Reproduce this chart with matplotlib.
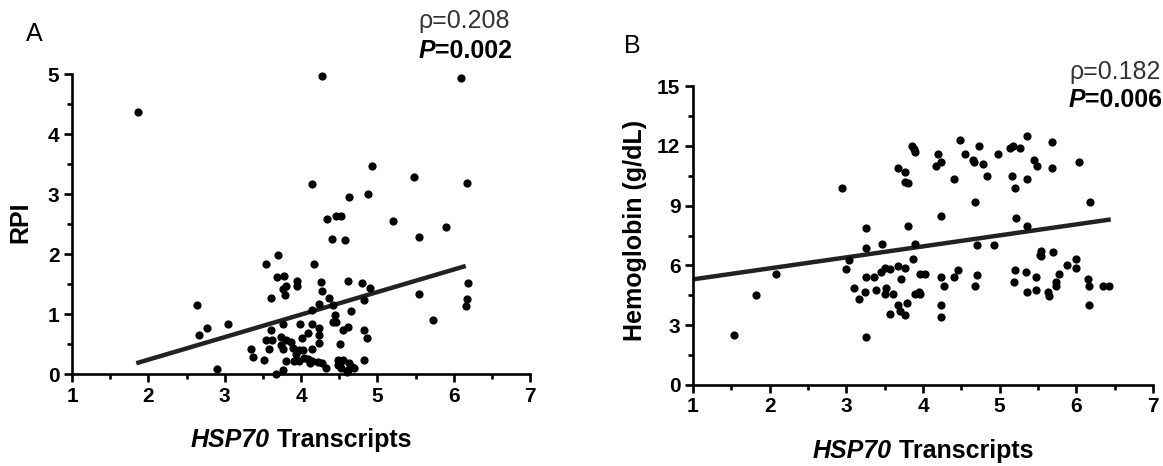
import matplotlib
matplotlib.use("Agg")
from matplotlib import pyplot as plt
from matplotlib.ticker import MultipleLocator

plt.rcParams['font.family'] = ['Liberation Sans', 'DejaVu Sans']

# panel A: HSP70 vs RPI
a_x = [1.86, 4.28, 6.09, 4.93, 5.48, 6.17, 4.14, 4.88, 4.63, 4.34, 4.46, 4.53,
       5.21, 5.90, 5.55, 4.40, 4.57, 3.70, 3.54, 4.17, 3.68, 3.78, 3.95, 3.95,
       3.81, 3.77, 3.79, 3.61, 4.26, 4.61, 4.80, 4.90, 4.28, 4.37, 4.83, 6.19,
       5.55, 6.17, 6.16, 2.64, 4.23, 4.42, 4.14, 4.65, 4.44, 5.73, 4.42, 4.46,
       3.99, 3.77, 3.04, 4.14, 4.61, 4.23, 2.77, 4.55, 3.61, 4.83, 2.66, 4.09,
       4.23, 4.01, 4.86, 3.74, 3.54, 3.62, 3.81, 3.87, 4.23, 4.51, 3.74, 3.89,
       3.34, 3.58, 3.77, 4.15, 3.97, 4.02, 3.94, 3.37, 4.04, 4.09, 3.52, 3.81,
       3.91, 3.97, 4.12, 4.15, 4.22, 4.28, 4.12, 4.49, 4.55, 4.51, 4.82, 4.49,
       4.63, 4.53, 4.67, 4.69, 4.33, 4.62, 4.60, 2.90, 3.77, 3.67]
a_y = [4.37, 4.96, 4.94, 3.47, 3.29, 3.18, 3.16, 3.00, 2.95, 2.58, 2.64, 2.64,
       2.55, 2.45, 2.29, 2.25, 2.24, 1.99, 1.83, 1.83, 1.62, 1.64, 1.55, 1.46,
       1.46, 1.41, 1.31, 1.27, 1.53, 1.55, 1.51, 1.43, 1.39, 1.26, 1.23, 1.51,
       1.33, 1.25, 1.13, 1.15, 1.17, 1.15, 1.07, 1.05, 0.98, 0.90, 0.86, 0.86,
       0.84, 0.83, 0.83, 0.83, 0.78, 0.77, 0.76, 0.74, 0.74, 0.73, 0.65, 0.68,
       0.65, 0.60, 0.60, 0.61, 0.56, 0.56, 0.56, 0.54, 0.51, 0.50, 0.48, 0.44,
       0.42, 0.42, 0.42, 0.42, 0.40, 0.40, 0.34, 0.28, 0.27, 0.25, 0.23, 0.22,
       0.22, 0.22, 0.22, 0.22, 0.20, 0.18, 0.19, 0.24, 0.24, 0.19, 0.23, 0.15,
       0.18, 0.10, 0.12, 0.10, 0.10, 0.07, 0.04, 0.08, 0.06, 0.00]
a_fit_x = [1.87, 6.13]
a_fit_y = [0.19, 1.79]

# panel B: HSP70 vs hemoglobin
b_x = [1.53, 1.82, 2.08, 2.94, 3.00, 3.03, 3.10, 3.16, 3.25, 3.26, 3.25, 3.24,
       3.25, 3.36, 3.39, 3.46, 3.45, 3.51, 3.52, 3.50, 3.57, 3.57, 3.61, 3.67,
       3.68, 3.68, 3.70, 3.71, 3.76, 3.76, 3.77, 3.77, 3.80, 3.79, 3.81, 3.86,
       3.88, 3.89, 3.87, 3.90, 3.90, 3.95, 3.96, 3.96, 4.02, 4.17, 4.19, 4.23,
       4.23, 4.23, 4.23, 4.23, 4.27, 4.40, 4.40, 4.46, 4.48, 4.55, 4.65, 4.67,
       4.68, 4.68, 4.70, 4.70, 4.73, 4.78, 4.83, 4.92, 4.98, 5.13, 5.18, 5.27,
       5.36, 5.16, 5.20, 5.21, 5.36, 5.35, 5.45, 5.49, 5.20, 5.19, 5.34, 5.35,
       5.47, 5.47, 5.54, 5.52, 5.54, 5.63, 5.64, 5.68, 5.68, 5.70, 5.73, 5.73,
       5.78, 5.88, 6.00, 6.00, 6.04, 6.18, 6.15, 6.16, 6.17, 6.35, 6.42]
b_y = [2.50, 4.50, 5.59, 9.88, 5.82, 6.28, 4.89, 4.29, 7.88, 6.89, 5.40, 4.68,
       2.40, 5.40, 4.79, 7.08, 5.69, 5.89, 4.89, 4.58, 5.82, 3.58, 4.58, 10.89,
       5.99, 3.99, 3.71, 5.30, 3.50, 5.89, 10.70, 10.18, 10.11, 4.09, 8.00, 12.01,
       11.83, 11.70, 6.30, 7.08, 4.58, 4.66, 4.58, 5.59, 5.59, 10.99, 11.60, 11.21,
       8.49, 5.40, 3.99, 3.39, 4.99, 10.31, 5.40, 5.79, 12.30, 11.60, 11.30, 11.21,
       9.19, 4.99, 7.00, 5.50, 12.01, 11.09, 10.50, 7.00, 11.60, 11.89, 11.99, 11.89,
       12.50, 10.50, 9.90, 8.39, 8.00, 10.31, 11.30, 10.99, 5.79, 5.19, 5.69, 4.69,
       5.40, 4.79, 6.71, 6.53, 6.48, 4.69, 4.48, 12.20, 10.89, 6.69, 5.19, 4.99,
       5.59, 6.00, 6.30, 5.89, 11.19, 9.19, 5.30, 4.99, 3.99, 4.99, 4.99]
b_fit_x = [1.00, 6.42]
b_fit_y = [5.30, 8.29]

W, H = 1163, 466
fig = plt.figure(figsize=(W / 100, H / 100), dpi=100)


def box(l, t, r, b):
    return [l / W, 1 - b / H, (r - l) / W, (b - t) / H]


def px(x, y):
    return x / W, 1 - y / H


def style(ax, ylim, ymaj, ymin):
    ax.set_xlim(1, 7)
    ax.set_ylim(*ylim)
    for s in ['top', 'right']:
        ax.spines[s].set_visible(False)
    for s in ['left', 'bottom']:
        ax.spines[s].set_linewidth(1.9)
    ax.xaxis.set_major_locator(MultipleLocator(1))
    ax.xaxis.set_minor_locator(MultipleLocator(0.5))
    ax.yaxis.set_major_locator(MultipleLocator(ymaj))
    ax.yaxis.set_minor_locator(MultipleLocator(ymin))
    ax.tick_params(which='major', length=6, width=1.9, labelsize=15, pad=3)
    ax.tick_params(which='minor', length=3.5, width=1.9)
    for lab in ax.get_xticklabels() + ax.get_yticklabels():
        lab.set_fontweight('bold')


ax1 = fig.add_axes(box(72, 74, 530, 374))
ax1.scatter(a_x, a_y, s=24, color='black', clip_on=False, zorder=3)
ax1.plot(a_fit_x, a_fit_y, color='#222222', lw=3.2, zorder=2)
style(ax1, (0, 5), 1, 0.5)

ax2 = fig.add_axes(box(693, 86, 1153, 385))
ax2.scatter(b_x, b_y, s=24, color='black', clip_on=False, zorder=3)
ax2.plot(b_fit_x, b_fit_y, color='#222222', lw=3.2, zorder=2)
style(ax2, (0, 15), 3, 1.5)

# panel letters, axis labels
fig.text(*px(34, 34), 'A', fontsize=18, ha='center', va='center')
fig.text(*px(632, 46), 'B', fontsize=18, ha='center', va='center')
fig.text(*px(20, 222), 'RPI', fontsize=18, fontweight='bold', rotation=90,
         ha='center', va='center')
fig.text(*px(635, 230), 'Hemoglobin (g/dL)', fontsize=18, fontweight='bold',
         rotation=90, ha='center', va='center')
fig.text(*px(510, 21), 'ρ=0.208', fontsize=18, color='#333333',
         ha='right', va='center')
fig.text(*px(1161, 72), 'ρ=0.182', fontsize=18, color='#333333',
         ha='right', va='center')

# two-part texts (italic bold + bold)
pairs = [
    (301, 440, 'HSP70', ' Transcripts', 18, 'center'),
    (923, 451, 'HSP70', ' Transcripts', 18, 'center'),
    (512, 51, 'P', '=0.002', 18, 'right'),
    (1162, 100, 'P', '=0.006', 18, 'right'),
]
made = []
for x, y, a, b, size, ha in pairs:
    t1 = fig.text(*px(x, y), a, fontsize=size, fontweight='bold',
                  fontstyle='italic', va='center', ha='left')
    t2 = fig.text(*px(x, y), b, fontsize=size, fontweight='bold',
                  va='center', ha='left')
    made.append((x, y, t1, t2, ha))

fig.canvas.draw()
r = fig.canvas.get_renderer()
for x, y, t1, t2, ha in made:
    w1 = t1.get_window_extent(r).width
    w2 = t2.get_window_extent(r).width
    if ha == 'center':
        x0 = x - (w1 + w2) / 2
    else:
        x0 = x - (w1 + w2)
    t1.set_position(px(x0, y))
    t2.set_position(px(x0 + w1, y))

fig.savefig('out.png', dpi=100)
